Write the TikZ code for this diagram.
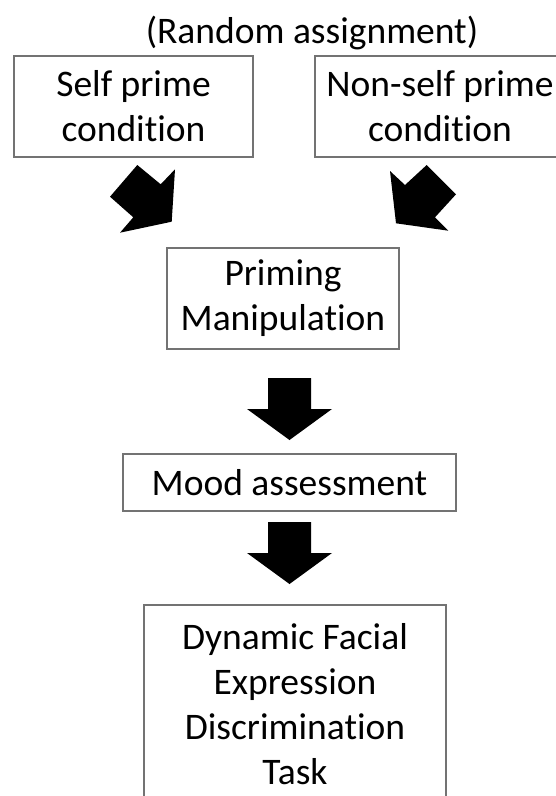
\documentclass[tikz,border=0pt]{standalone}
\usepackage{fontspec}
\setmainfont{Carlito}[Ligatures=NoCommon]
\begin{document}
\begin{tikzpicture}[x=1pt,y=-1pt,
  box/.style={draw=black!55, line width=1.2pt, fill=white, inner sep=0pt, align=center,
    font=\fontsize{37.5}{45}\selectfont},
  blockarrow/.style={fill=black, draw=none}]
\useasboundingbox (0,0) rectangle (555,796);
\node[font=\fontsize{37.5}{45}\selectfont] (title) at (312,33) {(Random assignment)};
\node[box, minimum width=239pt, minimum height=101pt] (self) at (133.5,106.5) {Self prime\\condition};
\node[box, minimum width=250pt, minimum height=101pt] (nonself) at (440,106.5) {Non-self prime\\condition};
\node[box, minimum width=232pt, minimum height=101pt] (prim) at (283,298.5) {Priming\\Manipulation};
\node[box, minimum width=333pt, minimum height=57pt] (mood) at (289.5,482.5) {Mood assessment};
\node[box, minimum width=302pt, minimum height=198pt] (task) at (295,704) {Dynamic Facial\\Expression\\Discrimination\\Task};
% diagonal block arrows
\fill[blockarrow] (137.3,165) -- (160.7,184.3) -- (175,169.3) -- (171.7,221.7) -- (120,232.7) -- (133.3,217.3) -- (110,196.7) -- cycle;
\fill[blockarrow] (426.7,165) -- (405,185) -- (390,171) -- (396,223.3) -- (448.3,230.7) -- (435,217.3) -- (456,194.3) -- cycle;
% vertical block arrows
\fill[blockarrow] (268,378) -- (311,378) -- (311,409) -- (332,409) -- (289.5,440) -- (247,409) -- (268,409) -- cycle;
\fill[blockarrow] (268,522) -- (311,522) -- (311,553) -- (332,553) -- (289.5,584) -- (247,553) -- (268,553) -- cycle;
\end{tikzpicture}
\end{document}
